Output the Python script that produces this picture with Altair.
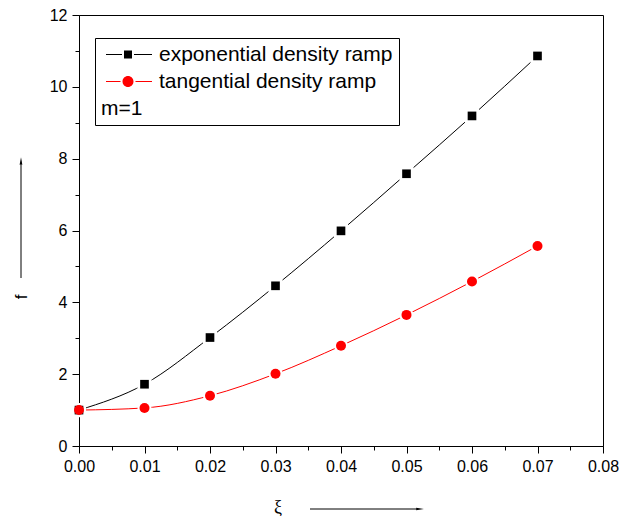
import altair as alt
import pandas as pd

# ---- data ----
xi_values = [0.00, 0.01, 0.02, 0.03, 0.04, 0.05, 0.06, 0.07]
exp_f = [1.00, 1.72, 3.02, 4.46, 5.99, 7.58, 9.19, 10.86]
tan_f = [1.00, 1.06, 1.40, 2.01, 2.79, 3.65, 4.58, 5.57]
series_names = ["exponential density ramp", "tangential density ramp"]
series_colors = ["#000000", "#FF0000"]
x_ticks = [round(i * 0.005, 3) for i in range(17)]
y_ticks = list(range(13))
legend_note = "m=1"

rows = []
for xv, yv in zip(xi_values, exp_f):
    rows.append({"xi": xv, "f": yv, "series": series_names[0]})
for xv, yv in zip(xi_values, tan_f):
    rows.append({"xi": xv, "f": yv, "series": series_names[1]})
df = pd.DataFrame(rows)

FONT = "Liberation Sans"

x_axis = alt.Axis(
    values=x_ticks, title=None, grid=False,
    labelExpr="round(datum.value*200) % 2 == 0 ? format(datum.value, '.2f') : ''",
    tickSize={"condition": {"test": "round(datum.value*200) % 2 == 0", "value": 7}, "value": 4},
    labelFont=FONT, labelFontSize=16, labelColor="black", labelPadding=5,
    domainColor="black", tickColor="black", labelFlush=False, labelOverlap=False,
)
y_axis = alt.Axis(
    values=y_ticks, title=None, grid=False,
    labelExpr="datum.value % 2 == 0 ? datum.label : ''",
    tickSize={"condition": {"test": "datum.value % 2 == 0", "value": 7}, "value": 4},
    labelFont=FONT, labelFontSize=16, labelColor="black", labelPadding=5,
    domainColor="black", tickColor="black", labelFlush=False, labelOverlap=False,
)

X = alt.X("xi:Q", scale=alt.Scale(domain=[0, 0.08], nice=False, zero=False), axis=x_axis)
Y = alt.Y("f:Q", scale=alt.Scale(domain=[0, 12], nice=False), axis=y_axis)

base = alt.Chart(df).encode(x=X, y=Y)
exp_df = base.transform_filter(alt.datum.series == series_names[0])
tan_df = base.transform_filter(alt.datum.series == series_names[1])

line_exp = exp_df.mark_line(interpolate="monotone", strokeWidth=1, color=series_colors[0])
line_tan = tan_df.mark_line(interpolate="monotone", strokeWidth=1, color=series_colors[1])

halo_sq = exp_df.mark_point(shape="square", filled=True, color="white", opacity=1, size=200)
halo_ci = tan_df.mark_point(shape="circle", filled=True, color="white", opacity=1, size=200)
pts_sq = exp_df.mark_point(shape="square", filled=True, color=series_colors[0], opacity=1, size=75)
pts_ci = tan_df.mark_point(shape="circle", filled=True, color=series_colors[1], opacity=1, size=100)

# legend symbols: line - marker - line (lines drawn as thin filled bars)
sq_path = ("M-1.1,-0.1H2.1V0.1H-1.1Z"
           "M4.5,-0.1H8.1V0.1H4.5Z"
           "M2.5,-0.8H4.1V0.8H2.5Z")
ci_path = ("M-1.1,-0.1H1.8V0.1H-1.1Z"
           "M4.8,-0.1H8.1V0.1H4.8Z"
           "M2.2,0A1.1,1.1 0 1,1 4.4,0A1.1,1.1 0 1,1 2.2,0Z")

leg = alt.Legend(
    title=legend_note, orient="none", legendX=16, legendY=23,
    titleOrient="bottom", titleAnchor="start", titleFont=FONT, titleFontSize=21,
    titleFontWeight="normal", titleColor="black", titlePadding=6,
    labelFont=FONT, labelFontSize=21, labelColor="black", labelLimit=500,
    labelOffset=37,
    symbolSize=100, symbolStrokeWidth=0, symbolOpacity=1,
    strokeColor="black", fillColor="white", padding=6, rowPadding=5,
)

# layer that only carries the legend: its data is filtered away so nothing is drawn
legend_layer = alt.Chart(df).transform_filter("false").mark_point(
    filled=True, opacity=1, size=100, strokeWidth=0
).encode(
    x=X, y=Y,
    fill=alt.Fill("series:N", scale=alt.Scale(domain=series_names, range=series_colors), legend=leg),
    shape=alt.Shape("series:N", scale=alt.Scale(domain=series_names, range=[sq_path, ci_path]), legend=leg),
)

one = alt.Chart(pd.DataFrame({"k": [0]}))

f_label = one.mark_text(text="f", font=FONT, fontSize=17, angle=270, color="black").encode(
    x=alt.value(-57), y=alt.value(282)
)
f_arrow = one.mark_rule(color="black", strokeWidth=1).encode(
    x=alt.value(-58), y=alt.value(263), y2=alt.value(150)
)
f_head = one.mark_point(shape="M0,-1L0.35,1L-0.35,1Z", filled=True, color="black", opacity=1, size=60).encode(
    x=alt.value(-58), y=alt.value(146)
)
xi_label = one.mark_text(text="ξ", font="Liberation Serif", fontSize=18, color="black").encode(
    x=alt.value(199), y=alt.value(493)
)
xi_arrow = one.mark_rule(color="black", strokeWidth=1).encode(
    x=alt.value(231), x2=alt.value(337), y=alt.value(494)
)
xi_head = one.mark_point(shape="M1,0L-1,0.35L-1,-0.35Z", filled=True, color="black", opacity=1, size=60).encode(
    x=alt.value(341), y=alt.value(494)
)

chart = alt.layer(
    line_exp, line_tan, halo_sq, halo_ci, pts_sq, pts_ci, legend_layer,
    f_label, f_arrow, f_head, xi_label, xi_arrow, xi_head,
).properties(
    width=524, height=431,
    autosize=alt.AutoSizeParams(type="none"),
    padding={"left": 71, "top": 7, "right": 31, "bottom": 70},
).configure(
    background="white",
    view=alt.ViewConfig(stroke="black", strokeWidth=1),
)

chart.save("out.html", embed_options={"renderer": "svg", "actions": False})
